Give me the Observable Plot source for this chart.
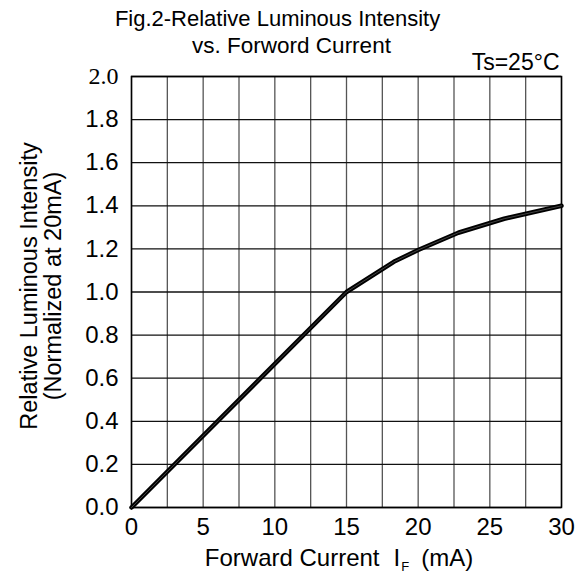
<!DOCTYPE html>
<html><head><meta charset="utf-8">
<script src="https://cdn.jsdelivr.net/npm/d3@7"></script>
<script src="https://cdn.jsdelivr.net/npm/@observablehq/plot@0.6"></script>
<style>body{margin:0;background:#fff}</style>
</head><body><div id="chart"></div>
<script>
const current = [0, 15, 18.3, 20, 22.8, 26, 30];
const intensity = [0, 1.0, 1.14, 1.195, 1.275, 1.34, 1.40];
const xTicks = [0, 5, 10, 15, 20, 25, 30];
const xGrid = [0, 2.5, 5, 7.5, 10, 12.5, 15, 17.5, 20, 22.5, 25, 27.5, 30];
const yTicks = [0, 0.2, 0.4, 0.6, 0.8, 1.0, 1.2, 1.4, 1.6, 1.8];
const yTop = [2.0];
const yGrid = [0, 0.2, 0.4, 0.6, 0.8, 1.0, 1.2, 1.4, 1.6, 1.8, 2.0];
const titleLines = ["Fig.2-Relative Luminous Intensity", "vs. Forword Current"];
const condition = "Ts=25°C";
const yLabels = ["Relative Luminous Intensity", "(Normalized at 20mA)"];

const data = current.map((x, i) => ({x, y: intensity[i]}));
const sans = "'Liberation Sans', Arial, sans-serif";

const plot = Plot.plot({
  width: 584, height: 580,
  marginLeft: 131, marginRight: 23, marginTop: 76, marginBottom: 73,
  style: {fontFamily: sans, fontSize: "24px", background: "#fff", color: "#000", overflow: "visible"},
  x: {domain: [0, 30]},
  y: {domain: [0, 2]},
  marks: [
    Plot.ruleX(xGrid, {stroke: "#555", strokeWidth: 1.3}),
    Plot.ruleY(yGrid, {stroke: "#111", strokeWidth: 1.3}),
    Plot.frame({stroke: "#000", strokeWidth: 1.5}),
    Plot.axisX(xTicks, {tickSize: 0, tickPadding: 10, fontSize: 24, label: null, tickFormat: d => String(d), fill: "#000"}),
    Plot.axisY(yTicks, {tickSize: 0, tickPadding: 13, fontSize: 24, label: null, tickFormat: d => d.toFixed(1), fill: "#000"}),
    Plot.axisY(yTop, {tickSize: 0, tickPadding: 13, fontSize: 24, label: null, tickFormat: d => d.toFixed(1), fontFamily: "'Liberation Serif', 'Times New Roman', serif", fill: "#000"}),
    Plot.line(data, {x: "x", y: "y", stroke: "#000", strokeWidth: 4.5}),
    Plot.line(data, {x: "x", y: "y", stroke: "#555", strokeWidth: 0.8}),
    Plot.text([titleLines[0]], {text: d => d, frameAnchor: "top-left", textAnchor: "middle", lineAnchor: "middle", dx: 146, dy: -58, fontSize: 22, fill: "#000"}),
    Plot.text([titleLines[1]], {text: d => d, frameAnchor: "top-left", textAnchor: "middle", lineAnchor: "middle", dx: 160, dy: -31, fontSize: 22.5, fill: "#000"}),
    Plot.text([condition], {text: d => d, frameAnchor: "top-right", textAnchor: "end", lineAnchor: "middle", dx: -2, dy: -14, fontSize: 23, fill: "#000"}),
    Plot.text([yLabels[0]], {text: d => d, frameAnchor: "left", textAnchor: "middle", lineAnchor: "middle", rotate: -90, dx: -102, dy: -6, fontSize: 23.5, fill: "#000"}),
    Plot.text([yLabels[1]], {text: d => d, frameAnchor: "left", textAnchor: "middle", lineAnchor: "middle", rotate: -90, dx: -78, dy: -6, fontSize: 23.5, fill: "#000"})
  ]
});
document.getElementById("chart").append(plot);

// x-axis label with subscript
const sx = plot.scale("x");
const svg = d3.select(plot);
const lab = svg.append("text")
  .attr("x", sx.apply(5.15)).attr("y", 566)
  .attr("text-anchor", "start")
  .attr("font-family", sans).attr("font-size", 24).attr("fill", "#000");
lab.append("tspan").text("Forward Current");
lab.append("tspan").attr("dx", 14).text("I");
lab.append("tspan").attr("dx", 1).attr("dy", 5).attr("font-size", 13).text("F");
lab.append("tspan").attr("dx", 12).attr("dy", -5).text("(mA)");
</script></body></html>
